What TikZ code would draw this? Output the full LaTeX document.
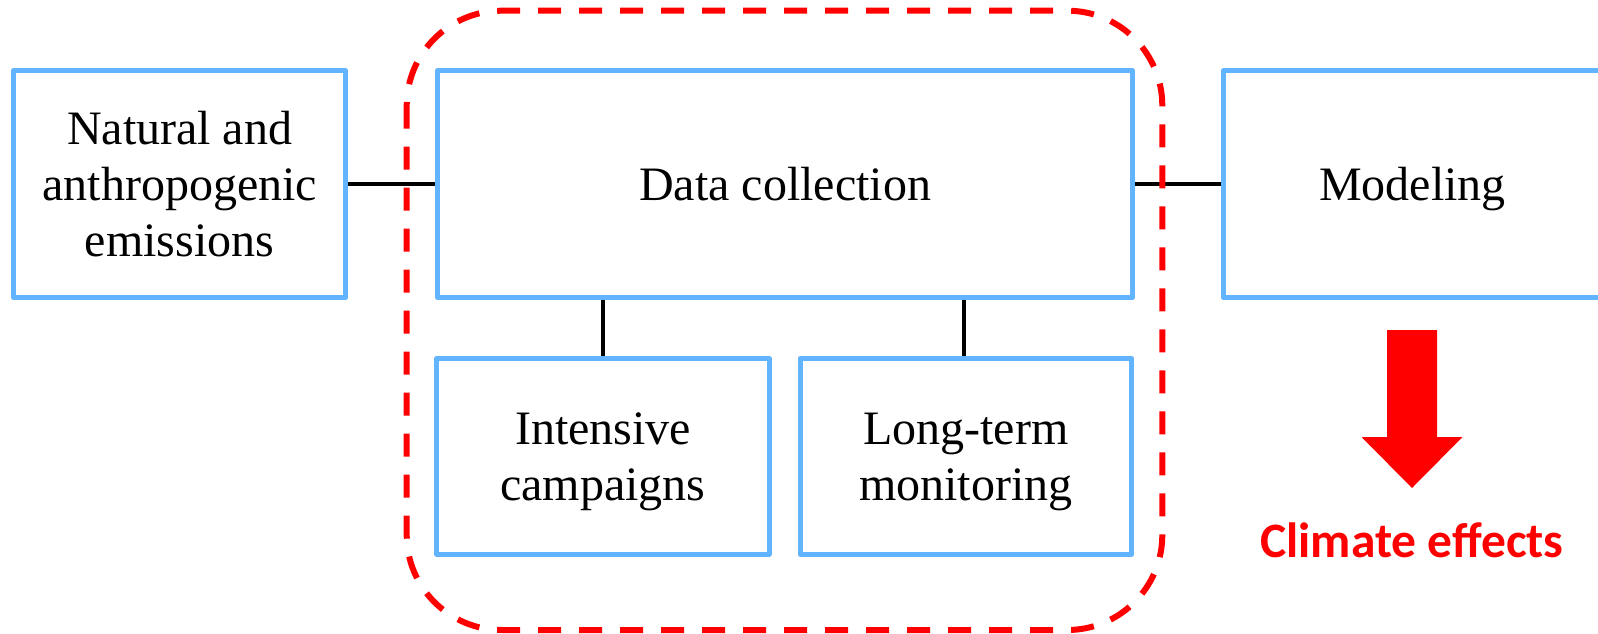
\documentclass[tikz,border=0pt]{standalone}
\usepackage{fontspec}
\setmainfont{Liberation Serif}
\newfontfamily\calibrifont{Carlito}
\definecolor{boxblue}{RGB}{99,180,255}
\newcommand\lnstrut{\rule[-0.216em]{0pt}{1.107em}}
\begin{document}
\begin{tikzpicture}[x=1pt,y=-1pt,
  box/.style={draw=boxblue, line width=5pt, line join=round, align=center, inner sep=0pt,
              font=\fontsize{48}{56}\selectfont},
  conn/.style={draw=black, line width=4pt},
  grp/.style={draw=red, line width=6pt, dash pattern=on 23pt off 18pt, rounded corners=95pt},
  ]
\useasboundingbox (0,0) rectangle (1598,634);
\node[box, minimum width=332.3pt, minimum height=226.7pt] (nat) at (179.65,184.15)
  {\lnstrut Natural and\\\lnstrut anthropogenic\\\lnstrut emissions};
\node[box, minimum width=695pt, minimum height=226.7pt] (dc) at (785,184.15)
  {\lnstrut Data collection};
\node[box, minimum width=378.8pt, minimum height=226.7pt] (mod) at (1412.6,184.15)
  {\lnstrut Modeling};
\node[box, minimum width=332.6pt, minimum height=195.7pt] (ic) at (603,456.2)
  {\lnstrut Intensive\\\lnstrut campaigns};
\node[box, minimum width=331.7pt, minimum height=195.7pt] (lt) at (965.85,456.2)
  {\lnstrut Long-term\\\lnstrut monitoring};
\draw[conn] (nat.east) -- (dc.west);
\draw[conn] (dc.east) -- (mod.west);
\draw[conn] (ic.north) -- (ic.north |- dc.south);
\draw[conn] ([xshift=-1.5pt]lt.north) -- ([xshift=-1.5pt]lt.north |- dc.south);
\draw[grp] (406.7,10.7) rectangle (1162.3,630);
\fill[red] (1387,330) -- (1437,330) -- (1437,437) -- (1462.5,437) -- (1412,488)
  -- (1361.5,437) -- (1387,437) -- cycle;
\node[font=\calibrifont\bfseries\fontsize{49.5}{56}\selectfont, text=red, anchor=base, inner sep=0pt]
  (ce) at (1412,557.3) {Climate effects};
\end{tikzpicture}
\end{document}
